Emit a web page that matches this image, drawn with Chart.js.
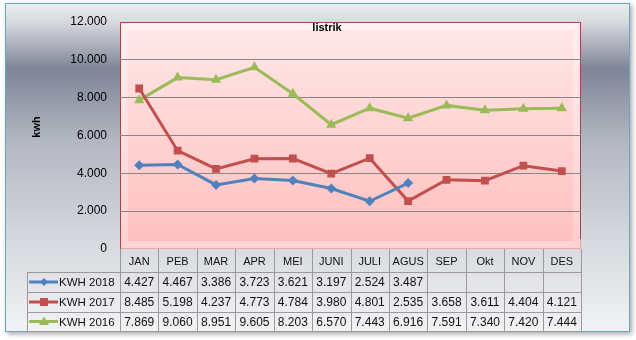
<!DOCTYPE html>
<html>
<head>
<meta charset="utf-8">
<script src="https://cdn.jsdelivr.net/npm/chart.js@4.4.1/dist/chart.umd.min.js"></script>
<style>
  html, body { margin: 0; padding: 0; background: #fff; }
  canvas { display: block; }
</style>
</head>
<body>
<canvas id="chart" width="636" height="340"></canvas>
<script>
const months = ["JAN", "PEB", "MAR", "APR", "MEI", "JUNI", "JULI", "AGUS", "SEP", "Okt", "NOV", "DES"];
const kwh2018 = [4427, 4467, 3386, 3723, 3621, 3197, 2524, 3487, null, null, null, null];
const kwh2017 = [8485, 5198, 4237, 4773, 4784, 3980, 4801, 2535, 3658, 3611, 4404, 4121];
const kwh2016 = [7869, 9060, 8951, 9605, 8203, 6570, 7443, 6916, 7591, 7340, 7420, 7444];
const seriesNames = ["KWH 2018", "KWH 2017", "KWH 2016"];
const titleText = "listrik";
const yTitle = "kwh";

const FONT = "'Liberation Sans', Arial, sans-serif";
const colors = ["#4f81bd", "#c0504d", "#9bbb59"];

// 4427 -> "4.427"
function fmt(v) {
    if (v === null || v === undefined) return "";
    return String(v).replace(/\B(?=(\d{3})+(?!\d))/g, ".");
}

function marker(ctx, style, x, y, r, color) {
    ctx.save();
    ctx.fillStyle = color;
    ctx.beginPath();
    if (style === "rectRot") {
        ctx.moveTo(x, y - r); ctx.lineTo(x + r, y); ctx.lineTo(x, y + r); ctx.lineTo(x - r, y);
    } else if (style === "rect") {
        ctx.rect(x - r * 0.8, y - r * 0.8, r * 1.6, r * 1.6);
    } else {
        ctx.moveTo(x, y - r); ctx.lineTo(x + r, y + r * 0.7); ctx.lineTo(x - r, y + r * 0.7);
    }
    ctx.closePath();
    ctx.fill();
    ctx.restore();
}

function band(ctx, pts, fill) {
    ctx.fillStyle = fill;
    ctx.beginPath();
    ctx.moveTo(pts[0], pts[1]);
    for (let i = 2; i < pts.length; i += 2) ctx.lineTo(pts[i], pts[i + 1]);
    ctx.closePath();
    ctx.fill();
}

const backdrop = {
    id: "backdrop",
    beforeDraw(chart) {
        const ctx = chart.ctx;
        const a = chart.chartArea;
        ctx.save();
        ctx.fillStyle = "#fff";
        ctx.fillRect(0, 0, chart.width, chart.height);

        // outer box with shadow
        ctx.shadowColor = "rgba(0,0,0,0.35)";
        ctx.shadowBlur = 5;
        ctx.shadowOffsetX = 2;
        ctx.shadowOffsetY = 2;
        let g = ctx.createLinearGradient(0, 3, 0, 332);
        g.addColorStop(0, "#eceef0");
        g.addColorStop(0.06, "#d6d8dd");
        g.addColorStop(0.2, "#7e8597");
        g.addColorStop(0.42, "#b3b7c1");
        g.addColorStop(0.7, "#d3d6db");
        g.addColorStop(1, "#f2f3f5");
        ctx.fillStyle = g;
        ctx.fillRect(5, 3, 625, 329);
        ctx.shadowColor = "transparent";
        ctx.strokeStyle = "#6aa8bf";
        ctx.lineWidth = 1;
        ctx.strokeRect(5.5, 3.5, 624, 328);

        // plot area
        const L = a.left, R = a.right, T = a.top, B = a.bottom, b = 8;
        g = ctx.createLinearGradient(0, T, 0, B);
        g.addColorStop(0, "#ffe8e8");
        g.addColorStop(1, "#ffbebe");
        ctx.fillStyle = g;
        ctx.fillRect(L, T, R - L, B - T);
        // bevel frame
        band(ctx, [L, T, R, T, R - b, T + b, L + b, T + b], "rgba(255,255,255,0.5)");
        band(ctx, [L, T, L + b, T + b, L + b, B - b, L, B], "rgba(255,255,255,0.3)");
        band(ctx, [R, T, R, B, R - b, B - b, R - b, T + b], "rgba(255,255,255,0.25)");
        band(ctx, [L, B, R, B, R - b, B - b, L + b, B - b], "rgba(255,255,255,0.35)");
        ctx.strokeStyle = "#f3a3a3";
        ctx.strokeRect(L + 0.5, T + 0.5, R - L - 1, B - T - 1);
        ctx.strokeStyle = "#9a4a4a";
        ctx.beginPath();
        ctx.moveTo(L + 0.5, B); ctx.lineTo(L + 0.5, T + 0.5); ctx.lineTo(R - 0.5, T + 0.5); ctx.lineTo(R - 0.5, B - 10);
        ctx.stroke();
        ctx.restore();
    },
    afterDraw(chart) {
        const ctx = chart.ctx;
        const a = chart.chartArea;
        const x = chart.scales.x;
        const half = (a.right - a.left) / months.length / 2;
        const rows = [a.bottom, 272, 292, 312, 331];
        const legendLeft = 27;
        ctx.save();

        // table grid
        ctx.strokeStyle = "#9a9a9a";
        ctx.lineWidth = 1;
        ctx.beginPath();
        for (let i = 0; i <= months.length; i++) {
            const px = Math.round(x.getPixelForValue(i) - half) + 0.5;
            ctx.moveTo(px, rows[0]); ctx.lineTo(px, rows[4]);
        }
        ctx.moveTo(legendLeft + 0.5, rows[1]); ctx.lineTo(legendLeft + 0.5, rows[4]);
        for (let r = 1; r < rows.length; r++) {
            ctx.moveTo(legendLeft, rows[r] + 0.5); ctx.lineTo(a.right, rows[r] + 0.5);
        }
        ctx.stroke();

        ctx.fillStyle = "#111";
        ctx.textAlign = "center";
        ctx.textBaseline = "middle";
        ctx.font = "11px " + FONT;
        months.forEach((m, i) => ctx.fillText(m, x.getPixelForValue(i), (rows[0] + rows[1]) / 2 + 1));

        const series = [kwh2018, kwh2017, kwh2016];
        const styles = ["rectRot", "rect", "triangle"];
        series.forEach((s, r) => {
            const cy = (rows[r + 1] + rows[r + 2]) / 2 + 1;
            ctx.font = "12px " + FONT;
            ctx.textAlign = "center";
            s.forEach((v, i) => ctx.fillText(fmt(v), x.getPixelForValue(i), cy));
            // legend key
            ctx.strokeStyle = colors[r];
            ctx.lineWidth = 3;
            ctx.beginPath();
            ctx.moveTo(29, cy - 1); ctx.lineTo(58, cy - 1);
            ctx.stroke();
            marker(ctx, styles[r], 44, cy - 1, r === 0 ? 4 : 5, colors[r]);
            ctx.font = "11.5px " + FONT;
            ctx.textAlign = "left";
            ctx.fillText(seriesNames[r], 59, cy);
        });

        // titles
        ctx.fillStyle = "#000";
        ctx.textAlign = "center";
        ctx.font = "bold 11px " + FONT;
        ctx.fillText(titleText, 327, 28);
        ctx.translate(37, 127);
        ctx.rotate(-Math.PI / 2);
        ctx.fillText(yTitle, 0, 0);
        ctx.restore();
    }
};

new Chart(document.getElementById("chart"), {
    type: "line",
    data: {
        labels: months,
        datasets: [
            { label: seriesNames[0], data: kwh2018, borderColor: colors[0], backgroundColor: colors[0],
              borderWidth: 3, pointStyle: "rectRot", pointRadius: 5, pointBorderWidth: 0 },
            { label: seriesNames[1], data: kwh2017, borderColor: colors[1], backgroundColor: colors[1],
              borderWidth: 3, pointStyle: "rect", pointRadius: 5.5, pointBorderWidth: 0 },
            { label: seriesNames[2], data: kwh2016, borderColor: colors[2], backgroundColor: colors[2],
              borderWidth: 3, pointStyle: "triangle", pointRadius: 6, pointBorderWidth: 0 }
        ]
    },
    options: {
        responsive: false,
        animation: false,
        devicePixelRatio: 1,
        layout: { padding: { left: 0, right: 55, top: 22, bottom: 91 } },
        plugins: { legend: { display: false }, title: { display: false }, tooltip: { enabled: false } },
        elements: { line: { tension: 0 } },
        scales: {
            x: { display: false, offset: true },
            y: {
                min: 0, max: 12000,
                border: { display: false },
                grid: {
                    drawTicks: false,
                    color: c => (c.tick.value === 0 || c.tick.value === 12000) ? "transparent" : "#878787"
                },
                ticks: {
                    stepSize: 2000, padding: 13, color: "#000",
                    font: { family: FONT, size: 12 },
                    callback: v => fmt(v)
                },
                afterFit(scale) { scale.width = 120; }
            }
        }
    },
    plugins: [backdrop]
});
</script>
</body>
</html>
